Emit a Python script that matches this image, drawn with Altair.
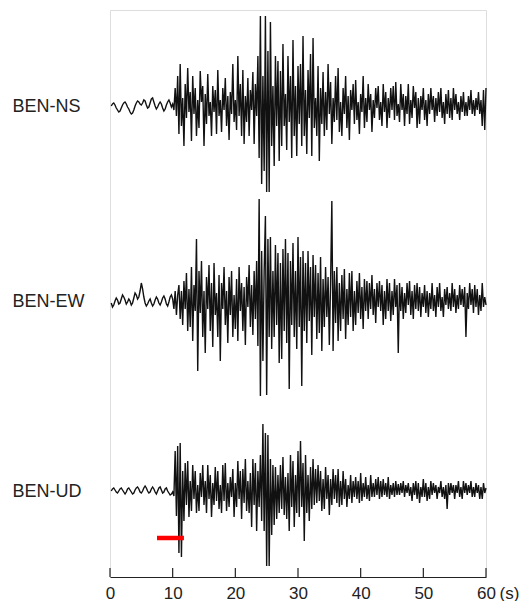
import altair as alt
import pandas as pd

# Three-component velocity record at station BEN, sampled every 0.2 s (0.2 ... 60.0 s).
DT = 0.2
STATIONS = ["BEN-NS", "BEN-EW", "BEN-UD"]

# Amplitudes (arbitrary units), five samples per second, one row per second.
ns = [
    0, 2, 3, 1, -2,       -4, -6, -5, -2, 1,    3, 4, 2, -1, -3,      -6, -8, -7, -4, 0,
    3, 5, 4, 2, 1,        3, 6, 5, 1, -2,       -1, 3, 7, 8, 4,       0, -3, -1, 2, 4,
    2, -2, -5, -3, 1,     4, 6, 3, -1, 2,       -4, 18, -10, 30, -28, 42, -20, 8, -40, 22,
    -12, 38, -6, 14, -35, 30, -8, 18, -30, 6,  -22, 35, 4, 20, -40,  12, -18, 32, -10, 4,
    -30, 20, -6, 16, -28, 36, -10, 6, -26, 18, -4, 28, -20, 10, -34,  14, -8, 42, -16, 6,
    -24, 50, -10, 22, -30, 36, -38, 10, -16, 28, -30, 16, -4, 34, -38, 22, -10, 50, -52, 90,
    -78, 30, -65, 90, -86, 55, -86, 84, -40, 20, -60, 50, -20, 45, -55, 35, -40, 62, -20, 12,
    -44, 50, -16, 30, -52, 66, -30, 20, -50, 40, -18, 42, -40, 70, -30, 16, -48, 36, -12, 52,
    -50, 68, -22, 8, -30, 40, -55, 18, -18, 34, -30, 14, -24, 42, -8,  24, -38, 8, -16, 30,
    -14, 38, -26, 4, -30, 18, -8, 30, -22, 10, -34, 16, -4, 22, -18,  26, -14, 4, -28, 12,
    -6, 30, -22, 8, -16,  22, -4, 12, -26, 6,  -12, 18, -2, 20, -14,  4, -20, 22, -6, 14,
    -22, 8, -12, 18, -4,  20, -14, 24, -10, 2, -16, 22, -4, 12, -20,  10, -8, 22, -18, 6,
    -12, 20, -2, 14, -22, 8, -18, 10, -4, 18,  -14, 6, -20, 12, -8,   18, -4, 10, -16, 8,
    -10, 14, -6, 18, -12, 4, -18, 12, -8, 16,  -12, 8, -14, 18, -4,   12, -8, 4, -14, 10,
    -6, 14, -10, 4, -10,  10, -4, 16, -8, 6,   -10, 8, -4, 14, -8,    6, -20, 16, -24, 18,
]

ew = [
    -2, -6, -4, 0, 3,     1, -3, -2, 2, 6,      4, 1, -3, -1, 2,      0, -4, -2, 3, 8,
    6, 2, 4, 10, 18,      12, 4, -2, -5, -3,    0, 2, -2, -5, -3,     1, 4, 2, -2, -4,
    -1, 3, 5, 2, -3,      -5, -1, 4, 6, 2,      -8, 10, -14, 6, 16,   -18, 10, -24, 20, -8,
    28, -30, 12, -26, 34, -40, 16, -10, 62, -70, 30, -12, 40, -36, 10, -52, 24, -8, 36, -30,
    18, -46, 38, -14, 8,  -36, 26, -60, 18, -8, 34, -24, 10, -42, 24, -14, 30, -36, 6, -28,
    22, -40, 34, -10, 18, -30, 14, -44, 24, -6, 36, -26, 16, -34, 30, -18, 40, -45, 102, -95,
    50, -60, 30, 85, -94, 62, -36, 64, -48, 30, -36, 56, -24, 48, -62, 38, -58, 52, -30, 62,
    -42, 48, -88, 40, -24, 58, -36, 30, -48, 64, -26, 44, -85, 50, -30, 38, -42, 50, -20, 34,
    -54, 46, -16, 36, -38, 28, -32, 44, -50, 22, -26, 34, -16, 24, -44, 18, 100, -50, 30, -22,
    34, -40, 18, -30, 26, -18, 32, -38, 12, -24, 28, -16, 30, -30, 10, -24, 20, -12, 28, -18,
    14, -28, 22, -10, 20, -18, 18, -8, 26, -14, 12, -22, 18, -6, 20,  -10, 16, -24, 10, -18,
    22, -10, 18, -20, 10, -14, 22, -6, 16, -52, 18, -10, 14, -18, 8,  -12, 18, -4, 20, -14,
    10, -18, 16, -8, 18,  -10, 14, -16, 8, -6, 16, -12, 10, -16, 8,   -8, 18, -10, 6, -16,
    14, -6, 18, -10, 4,   -16, 12, -4, 14, -8, 8, -10, 18, -6, 12,    -12, 6, -8, 16, -4,
    12, -6, 14, -36, 8,   -8, 18, -4, 12, -12, 16, -6, 12, -14, 6,    -10, 18, -6, 4, -4,
]

ud = [
    0, 2, 3, 1, -1,       -2, 0, 2, 3, 1,       -1, -3, -1, 2, 3,     1, -1, -3, -2, 1,
    3, 4, 2, -1, -2,      0, 3, 5, 3, 0,        -2, -1, 2, 4, 2,      -1, -3, 0, 3, 4,
    1, -2, -1, 2, 3,      0, -2, -4, -3, -1,    -5, 40, -25, 45, -62, 48, -66, 20, -30, 28,
    -14, 30, -26, 10, -20, 26, -8, 20, -22, 6, -20, 18, -6, 26, -14,  10, -22, 26, -8, 16,
    -26, 8, -14, 24, -10, 20, -18, 6, -22, 26, -10, 28, -20, 8, -16,  14, -6, 22, -26, 8,
    -16, 30, -8, 20, -28, 22, -12, 32, -20, 10, -22, 18, -36, 32, -14, 28, -40, 20, -16, 36,
    -30, 67, -40, 58, -75, 56, -75, 32, -44, 26, -34, 24, -28, 16, -22, 26, -18, 34, -24, 14,
    -28, 18, -40, 36, -16, 30, -36, 16, -22, 40, -26, 50, -16, 28, -50, 36, -22, 16, -30, 24,
    -18, 32, -14, 22, -12, 26, -10, 20, -20, 12, -18, 24, -8, 16, -24, 12, -14, 22, -8, 16,
    -12, 22, -16, 10, -14, 20, -8, 12, -16, 6, -8, 16, -12, 10, -6,   14, -8, 10, -12, 18,
    -10, 8, -6, 14, -8,   6, -10, 16, -6, 8,    -6, 12, -4, 14, -8,    10, -6, 12, -4, 8,
    -6, 14, -8, 6, -4,    8, -6, 10, -4, 7,     -4, 8, -2, 10, -6,     6, -2, 8, -5, 4,
    -10, 8, -4, 10, -8,   8, -12, 4, -6, 12,    -6, 8, -10, 4, -8,     10, -4, 8, -2, 6,
    -8, 4, -2, 10, -6,    4, -8, 6, -18, 8,     -4, 8, -2, 6, -8,      6, -2, 10, -6, 4,
    -8, 10, -2, 8, -4,    6, -2, 10, -6, 4,     -6, 8, -2, 6, -8,      4, -8, 8, -2, 3,
]

# P-wave arrival marker (seconds)
p_window = [7.5, 11.8]
time_ticks = [0, 10, 20, 30, 40, 50, 60]

# Layout: plot area in pixels, each trace drawn about its own baseline
W, H = 376, 567
baseline = {"BEN-NS": 471, "BEN-EW": 276, "BEN-UD": 86}

frames = []
for name, amp in zip(STATIONS, [ns, ew, ud]):
    frames.append(pd.DataFrame({
        "t": [round(DT * (i + 1), 1) for i in range(len(amp))],
        "amp": amp,
        "comp": name,
    }))
df = pd.concat(frames, ignore_index=True)
df["y"] = df["amp"] + df["comp"].map(baseline)

label_expr = " : ".join(
    f"datum.value == {baseline[s]} ? '{s}'" for s in STATIONS
) + " : ''"

FONT = "Liberation Sans"
INK = "#222222"

x_scale = alt.Scale(domain=[0, 60], nice=False, zero=False)
y_scale = alt.Scale(domain=[0, H], nice=False, zero=False)

traces = alt.Chart(df).mark_line(color="#111111", strokeWidth=1.4, interpolate="linear").encode(
    x=alt.X("t:Q", scale=x_scale, axis=alt.Axis(
        values=time_ticks, ticks=False, tickSize=0, grid=False,
        domainColor=INK, domainWidth=1.2,
        labelFont=FONT, labelFontSize=17, labelColor=INK, labelPadding=8,
        labelFlush=False,
        title="(s)", titleFont=FONT, titleFontSize=17, titleFontWeight="normal",
        titleColor=INK, titleX=389, titleY=8, titleAlign="left",
        titleBaseline="top", titleAnchor="start",
    )),
    y=alt.Y("y:Q", scale=y_scale, axis=alt.Axis(
        values=[baseline[s] for s in STATIONS], labelExpr=label_expr,
        ticks=False, tickSize=0, domain=False, grid=False,
        labelAlign="left", labelBaseline="middle", labelPadding=98,
        labelFont=FONT, labelFontSize=18, labelColor=INK, title=None,
    )),
    detail="comp:N",
)

tick_df = pd.DataFrame({"t": time_ticks})
ticks = alt.Chart(tick_df).mark_rule(color=INK, strokeWidth=1.2).encode(
    x=alt.X("t:Q", scale=x_scale),
    y=alt.value(H - 9),
    y2=alt.value(H),
)

marker_df = pd.DataFrame({"t0": [p_window[0]], "t1": [p_window[1]]})
marker = alt.Chart(marker_df).mark_rule(color="#ff0000", strokeWidth=4.5).encode(
    x=alt.X("t0:Q", scale=x_scale),
    x2="t1:Q",
    y=alt.value(528),
)

chart = alt.layer(traces, ticks, marker).properties(
    width=W, height=H,
    autosize=alt.AutoSizeParams(type="none"),
    padding={"left": 110, "top": 10, "right": 39, "bottom": 24},
).configure_view(stroke=None).configure(background="white")

chart.save("out.html", embed_options={"renderer": "svg", "actions": False})
